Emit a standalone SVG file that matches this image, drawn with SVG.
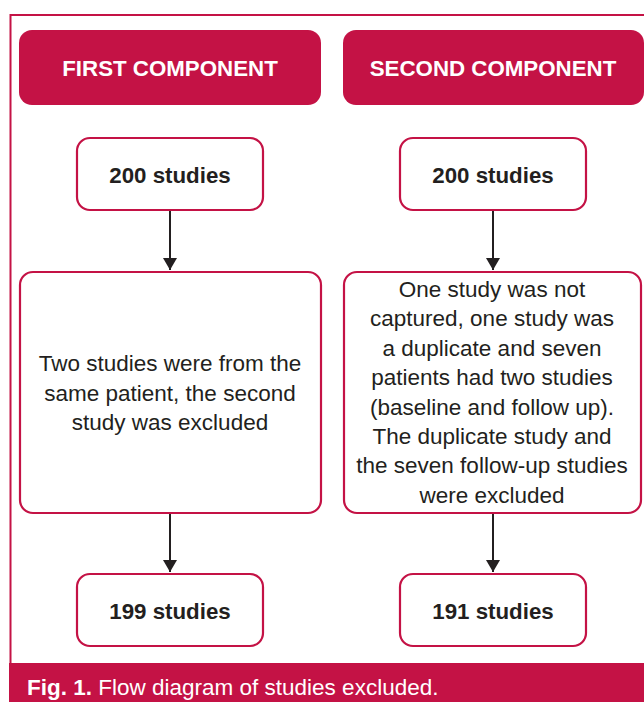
<svg xmlns="http://www.w3.org/2000/svg" width="644" height="702" viewBox="0 0 644 702">
  <style>
    .hdr { fill: #c41245; }
    .hdrtxt { font-family: "Liberation Sans", Arial, sans-serif; font-size: 22.3px; font-weight: bold; fill: #ffffff; text-anchor: middle; }
    .box { fill: #ffffff; stroke: #c41245; stroke-width: 2.2; }
    .bold { font-family: "Liberation Sans", Arial, sans-serif; font-size: 22.3px; font-weight: bold; fill: #231f20; text-anchor: middle; }
    .txt { font-family: "Liberation Sans", Arial, sans-serif; font-size: 22.5px; fill: #231f20; text-anchor: middle; }
    .conn { stroke: #231f20; stroke-width: 2; fill: none; }
    .cap { font-family: "Liberation Sans", Arial, sans-serif; font-size: 22.5px; fill: #ffffff; }
  </style>
  <defs>
    <marker id="arrow" viewBox="0 0 12 14" refX="12" refY="7" markerWidth="12" markerHeight="14" markerUnits="userSpaceOnUse" orient="auto">
      <path d="M0,0 L12,7 L0,14 Z" fill="#231f20"/>
    </marker>
  </defs>
  <rect x="0" y="0" width="644" height="702" fill="#ffffff"/>
  <!-- outer frame -->
  <path d="M10.5,663 L10.5,15 L644,15" fill="none" stroke="#c41245" stroke-width="2"/>

  <g id="hdr-first">
    <rect class="hdr" x="19" y="30" width="302" height="75" rx="13"/>
    <text class="hdrtxt" x="170" y="76">FIRST COMPONENT</text>
  </g>
  <g id="hdr-second">
    <rect class="hdr" x="343" y="30" width="301" height="75" rx="13"/>
    <text class="hdrtxt" x="493" y="76">SECOND COMPONENT</text>
  </g>

  <g id="left-top">
    <rect class="box" x="77" y="138" width="186" height="72" rx="13"/>
    <text class="bold" x="170" y="183">200 studies</text>
  </g>
  <g id="right-top">
    <rect class="box" x="400" y="138" width="186" height="72" rx="13"/>
    <text class="bold" x="493" y="183">200 studies</text>
  </g>

  <g id="left-mid">
    <rect class="box" x="20" y="272" width="301" height="241" rx="13"/>
    <text class="txt" x="170" y="371">Two studies were from the</text>
    <text class="txt" x="170" y="400.5">same patient, the second</text>
    <text class="txt" x="170" y="430">study was excluded</text>
  </g>
  <g id="right-mid">
    <rect class="box" x="344" y="272" width="297" height="241" rx="13"/>
    <text class="txt" x="492" y="297">One study was not</text>
    <text class="txt" x="492" y="326.4">captured, one study was</text>
    <text class="txt" x="492" y="355.8">a duplicate and seven</text>
    <text class="txt" x="492" y="385.2">patients had two studies</text>
    <text class="txt" x="492" y="414.6">(baseline and follow up).</text>
    <text class="txt" x="492" y="444">The duplicate study and</text>
    <text class="txt" x="492" y="473.4">the seven follow-up studies</text>
    <text class="txt" x="492" y="502.8">were excluded</text>
  </g>

  <g id="left-bottom">
    <rect class="box" x="77" y="574" width="186" height="72" rx="13"/>
    <text class="bold" x="170" y="619">199 studies</text>
  </g>
  <g id="right-bottom">
    <rect class="box" x="400" y="574" width="186" height="72" rx="13"/>
    <text class="bold" x="493" y="619">191 studies</text>
  </g>

  <g id="connectors">
    <line class="conn" x1="170" y1="211" x2="170" y2="270" marker-end="url(#arrow)"/>
    <line class="conn" x1="493" y1="211" x2="493" y2="270" marker-end="url(#arrow)"/>
    <line class="conn" x1="170" y1="514" x2="170" y2="572" marker-end="url(#arrow)"/>
    <line class="conn" x1="493" y1="514" x2="493" y2="572" marker-end="url(#arrow)"/>
  </g>

  <g id="caption">
    <rect x="9" y="663" width="635" height="39" fill="#c41245"/>
    <text class="cap" x="27" y="695"><tspan font-weight="bold">Fig. 1.</tspan> Flow diagram of studies excluded.</text>
  </g>
</svg>
